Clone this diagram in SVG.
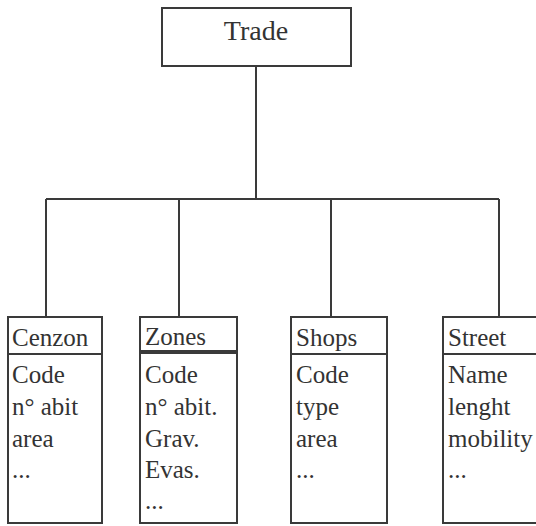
<svg xmlns="http://www.w3.org/2000/svg" width="536" height="526" viewBox="0 0 536 526">
<style>
.box{fill:#fff;stroke:#3a3a3a;stroke-width:2}
.ln{fill:none;stroke:#3a3a3a;stroke-width:2}
text{font-family:"Liberation Serif","Times New Roman",serif;fill:#333;font-size:25px}
.t{font-size:28px}
</style>
<rect width="536" height="526" fill="#fff"/>
<g id="connectors">
<path class="ln" d="M256 66 V199 M46 199 H499 M46 199 V317 M179 199 V317 M331 199 V317 M499 199 V317"/>
</g>
<g id="trade">
<rect class="box" x="162" y="8" width="189" height="58"/>
<text class="t" x="256" y="40" text-anchor="middle">Trade</text>
</g>
<g id="cenzon">
<rect class="box" x="8" y="317" width="94" height="206"/>
<line class="ln" x1="8" y1="354" x2="102" y2="354"/>
<text x="12" y="346">Cenzon</text>
<text x="12" y="383">Code</text>
<text x="12" y="415">n° abit</text>
<text x="12" y="447">area</text>
<text x="12" y="478">...</text>
</g>
<g id="zones">
<rect class="box" x="140" y="317" width="97" height="206"/>
<line class="ln" x1="140" y1="352" x2="237" y2="352" style="stroke-width:4"/>
<text x="145" y="345">Zones</text>
<text x="145" y="383">Code</text>
<text x="145" y="415">n° abit.</text>
<text x="145" y="447">Grav.</text>
<text x="145" y="478">Evas.</text>
<text x="145" y="509">...</text>
</g>
<g id="shops">
<rect class="box" x="291" y="317" width="96" height="206"/>
<line class="ln" x1="291" y1="354" x2="387" y2="354"/>
<text x="296" y="346">Shops</text>
<text x="296" y="383">Code</text>
<text x="296" y="415">type</text>
<text x="296" y="447">area</text>
<text x="296" y="478">...</text>
</g>
<g id="street">
<rect class="box" x="443" y="317" width="100" height="206"/>
<line class="ln" x1="443" y1="354" x2="543" y2="354"/>
<text x="448" y="346">Street</text>
<text x="448" y="383">Name</text>
<text x="448" y="415">lenght</text>
<text x="448" y="447">mobility</text>
<text x="448" y="478">...</text>
</g>
</svg>
